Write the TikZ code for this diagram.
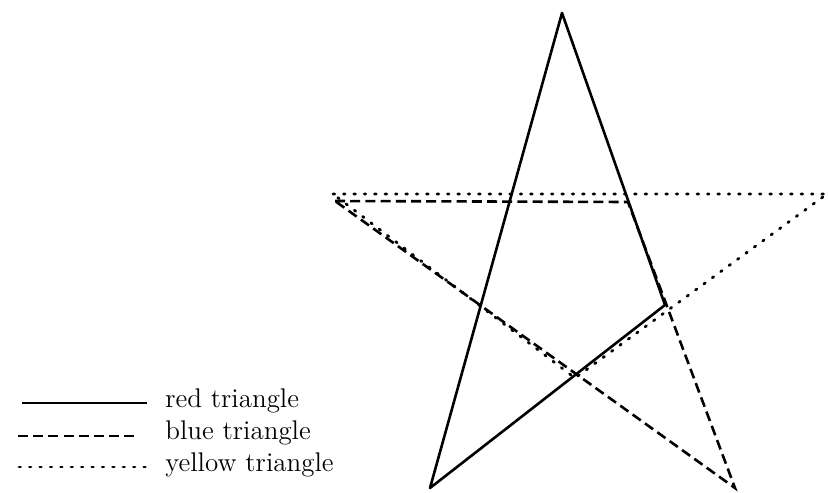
\documentclass[tikz,border=0pt]{standalone}
\usepackage{tikz}
\usetikzlibrary{positioning}

\begin{document}
\begin{tikzpicture}[x=0.5pt,y=-0.5pt,
    redline/.style={line width=1.3pt,line join=round},
    blueline/.style={line width=1.3pt,dash pattern=on 5pt off 2.6pt},
    yellowline/.style={line width=1.4pt,line cap=round,dash pattern=on 0.8pt off 4.4pt},
    legendtext/.style={anchor=west,inner sep=0pt,font=\fontsize{13.5}{16}\selectfont}]
  \useasboundingbox (0,0) rectangle (828,492);
  % vertices of the three triangles
  \coordinate (rT) at (562,13);
  \coordinate (rB) at (430,488);
  \coordinate (rR) at (665,305);
  \coordinate (bL) at (335,201);
  \coordinate (bP) at (628,202);
  \coordinate (bB) at (735,488);
  \coordinate (yL) at (333,194);
  \coordinate (yR) at (827,194);
  \coordinate (yB) at (575,378);
  \draw[redline] (rT) -- (rB) -- (rR) -- cycle;
  \draw[blueline] (bL) -- (bP) -- (bB) -- cycle;
  \draw[yellowline] (yL) -- (yR) -- (yB) -- cycle;
  % legend
  \node[legendtext] (redlab) at (165,401) {red triangle};
  \node[legendtext] (bluelab) at (165,433) {blue triangle};
  \node[legendtext] (yellowlab) at (165,465) {yellow triangle};
  \coordinate (rs) at (22,403);
  \coordinate (bs) at (18,436);
  \coordinate (ys) at (19,467);
  \draw[redline] (rs) -- (rs -| 147,0);
  \draw[blueline] (bs) -- (bs -| 139,0);
  \draw[yellowline] (ys) -- (ys -| 152,0);
\end{tikzpicture}
\end{document}
